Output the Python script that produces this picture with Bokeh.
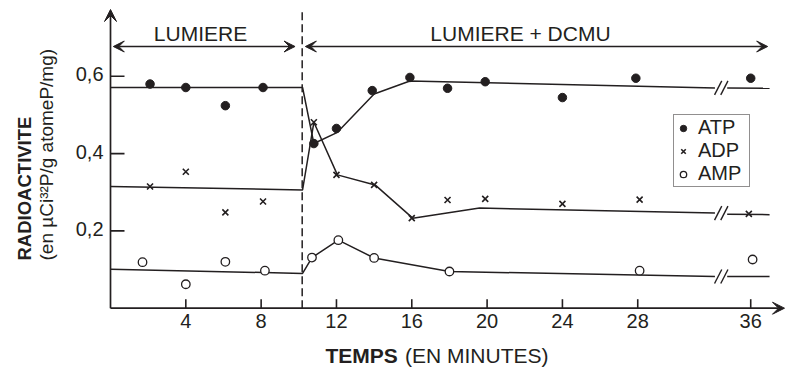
import numpy as np
from bokeh.plotting import figure
from bokeh.models import Range1d, Arrow, VeeHead, Label, Legend, LegendItem
from bokeh.embed import file_html
from bokeh.resources import INLINE
from bokeh.core.properties import value

# ---------------- data (time in minutes, radioactivity) ----------------
atp_t = [2.1, 4.0, 6.1, 8.1, 10.8, 12.0, 13.9, 15.9, 17.9, 19.9, 24.0, 27.9, 36.0]
atp_v = [0.580, 0.571, 0.524, 0.571, 0.426, 0.465, 0.563, 0.597, 0.569, 0.586, 0.545, 0.595, 0.595]
adp_t = [2.1, 4.0, 6.1, 8.1, 10.8, 12.0, 14.0, 16.0, 17.9, 19.9, 24.0, 28.1, 35.8]
adp_v = [0.315, 0.353, 0.248, 0.276, 0.481, 0.345, 0.319, 0.233, 0.280, 0.283, 0.270, 0.281, 0.244]
amp_t = [1.7, 4.0, 6.1, 8.2, 10.7, 12.1, 14.0, 18.0, 28.1, 36.2]
amp_v = [0.119, 0.062, 0.120, 0.097, 0.131, 0.176, 0.130, 0.095, 0.097, 0.126]

# fitted curves: part before the axis break and tail after it
atp_fit_t = [0, 10.2, 10.8, 12.05, 14.0, 15.9, 32.2]
atp_fit_v = [0.571, 0.571, 0.426, 0.455, 0.554, 0.588, 0.570]
atp_tail_t = [33.5, 38.0]
atp_tail_v = [0.570, 0.569]
adp_fit_t = [0, 10.2, 10.8, 12.05, 14.05, 16.05, 19.6, 32.2]
adp_fit_v = [0.315, 0.306, 0.481, 0.345, 0.319, 0.233, 0.259, 0.246]
adp_tail_t = [33.5, 38.0]
adp_tail_v = [0.243, 0.242]
amp_fit_t = [0, 10.2, 10.7, 12.1, 14.0, 18.0, 32.2]
amp_fit_v = [0.101, 0.090, 0.131, 0.176, 0.130, 0.095, 0.082]
amp_tail_t = [33.5, 38.0]
amp_tail_v = [0.082, 0.082]

x_ticks = [4, 8, 12, 16, 20, 24, 28, 36]
x_tick_labels = ["4", "8", "12", "16", "20", "24", "28", "36"]
y_ticks = [0.2, 0.4, 0.6]
y_tick_labels = ["0,2", "0,4", "0,6"]

light_start = 10.18  # DCMU added

# ---------------- broken time axis ----------------
BREAK = 32.0
SQUEEZE = 0.5


def disp(t):
    t = np.asarray(t, dtype=float)
    return np.where(t <= BREAK, t, BREAK + (t - BREAK) * SQUEEZE)


INK = "#231f20"
FONT = "Liberation Sans"
PX_X = 18.83   # px per minute
PX_Y = 386.5   # px per unit
W, H = 785, 368
X0, Y0 = 110.0, 307.7   # pixel position of the origin


def ux(px):  # pixel distance -> x data units
    return px / PX_X


def uy(px):  # pixel distance -> y data units
    return px / PX_Y


p = figure(width=W, height=H, title=None, output_backend="svg", toolbar_location=None,
           x_range=Range1d(-X0 / PX_X, (W - X0) / PX_X),
           y_range=Range1d(-(H - Y0) / PX_Y, Y0 / PX_Y),
           x_axis_location=None, y_axis_location=None,
           min_border=0, min_border_left=0, min_border_right=0,
           min_border_top=0, min_border_bottom=0)
p.outline_line_color = None
p.grid.visible = False
p.background_fill_color = "white"
p.border_fill_color = "white"

# ---------------- axes ----------------
head = dict(fill_color=INK, line_color=INK, line_width=1)
p.add_layout(Arrow(end=VeeHead(size=12, **head), x_start=0, y_start=0, x_end=0, y_end=uy(Y0 - 9),
                   line_width=1.7, line_color=INK))
p.add_layout(Arrow(end=VeeHead(size=12, **head), x_start=0, y_start=0, x_end=(W - X0 - 1) / PX_X,
                   y_end=0, line_width=1.7, line_color=INK))

xt = disp(x_ticks)
p.segment(x0=xt, y0=np.zeros(len(xt)), x1=xt, y1=np.full(len(xt), uy(9)),
          line_color=INK, line_width=1.6)
p.text(x=xt, y=np.zeros(len(xt)), text=x_tick_labels, y_offset=6,
       text_align="center", text_baseline="top", text_font=value(FONT),
       text_font_size="20px", text_color=INK)
yt = np.asarray(y_ticks)
p.segment(x0=np.zeros(len(yt)), y0=yt, x1=np.full(len(yt), ux(14)), y1=yt,
          line_color=INK, line_width=1.6)
p.text(x=np.zeros(len(yt)), y=yt, text=y_tick_labels, x_offset=-7, y_offset=-2,
       text_align="right", text_baseline="middle", text_font=value(FONT),
       text_font_size="20px", text_color=INK)

# dashed separator (from the time axis to the top)
p.segment(x0=[light_start], y0=[0], x1=[light_start], y1=[uy(Y0 - 8)],
          line_color=INK, line_width=1.5, line_dash="8 4")

# period arrows
arr_y = uy(Y0 - 46)
for xs, xe in [(0.15, 9.8), (10.35, 34.9)]:
    p.add_layout(Arrow(start=VeeHead(size=11, **head), end=VeeHead(size=11, **head),
                       x_start=xs, y_start=arr_y, x_end=xe, y_end=arr_y,
                       line_width=1.4, line_color=INK))
for txt, xc in [("LUMIERE", 4.78), ("LUMIERE + DCMU", 21.77)]:
    p.add_layout(Label(x=xc, y=uy(Y0 - 32.5), text=txt, text_align="center",
                       text_baseline="middle", text_font=FONT,
                       text_font_size="21px", text_color=INK))

# ---------------- fitted lines ----------------
for ft, fv, tt, tv in [(atp_fit_t, atp_fit_v, atp_tail_t, atp_tail_v),
                       (adp_fit_t, adp_fit_v, adp_tail_t, adp_tail_v),
                       (amp_fit_t, amp_fit_v, amp_tail_t, amp_tail_v)]:
    p.line(disp(ft), fv, line_color=INK, line_width=1.5)
    p.line(disp(tt), tv, line_color=INK, line_width=1.5)
    # break marks "//"
    yv = fv[-1]
    dx, dy = ux(3.6), uy(7.0)
    for c in (32.27, 32.6):
        p.segment(x0=[c - dx], y0=[yv - dy], x1=[c + dx], y1=[yv + dy],
                  line_color=INK, line_width=1.4)

# ---------------- points ----------------
r_atp = p.scatter(disp(atp_t), atp_v, marker="circle", size=8.5, fill_color=INK, line_color=INK)
r_adp = p.scatter(disp(adp_t), adp_v, marker="x", size=8.5, line_color=INK, line_width=1.6)
r_amp = p.scatter(disp(amp_t), amp_v, marker="circle", size=8.5, fill_color="white",
                  line_color=INK, line_width=1.3)

legend = Legend(items=[LegendItem(label="ATP", renderers=[r_atp]),
                       LegendItem(label="ADP", renderers=[r_adp]),
                       LegendItem(label="AMP", renderers=[r_amp])],
                location=(673, H - 187), orientation="vertical",
                glyph_width=16, glyph_height=20, label_height=20, label_width=50,
                label_standoff=7, padding=1, spacing=0, margin=0,
                label_text_line_height=1.0,
                label_text_font=FONT, label_text_font_size="20px", label_text_color=INK,
                border_line_color=INK, border_line_width=1.3,
                background_fill_color="white", background_fill_alpha=1.0)
p.add_layout(legend)

# ---------------- axis titles ----------------
p.add_layout(Label(x=ux(24 - X0), y=uy(Y0 - 260), text="RADIOACTIVITE", angle=np.pi / 2,
                   text_align="left", text_baseline="middle", text_font=FONT,
                   text_font_style="bold", text_font_size="18.5px", text_color=INK))
p.add_layout(Label(x=ux(46 - X0), y=uy(Y0 - 260), text="(en  µCi³²P/g atomeP/mg)",
                   angle=np.pi / 2, text_align="left", text_baseline="middle", text_font=FONT,
                   text_font_size="19px", text_color=INK))
p.add_layout(Label(x=ux(325 - X0), y=uy(Y0 - 355), text="TEMPS",
                   text_align="left", text_baseline="middle", text_font=FONT,
                   text_font_style="bold", text_font_size="21px", text_color=INK))
p.add_layout(Label(x=ux(404.5 - X0), y=uy(Y0 - 355), text="(EN MINUTES)",
                   text_align="left", text_baseline="middle", text_font=FONT,
                   text_font_size="21px", text_color=INK))

open("out.html", "w").write(file_html(p, INLINE))
